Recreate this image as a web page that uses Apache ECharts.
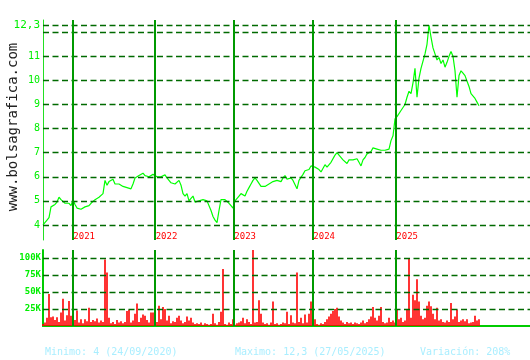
<!DOCTYPE html>
<html>
<head>
<meta charset="utf-8">
<script src="https://cdn.jsdelivr.net/npm/echarts@6/dist/echarts.min.js"></script>
<style>
html,body{margin:0;padding:0;background:#fff;}
#chart{width:530px;height:360px;}
</style>
</head>
<body>
<div id="chart"></div>
<script>
// Closing prices, one per period (Sep 2020 -> early 2026)
const priceValues = [
4.0,4.05,4.2,4.3,4.75,4.7,4.85,4.95,5.15,5.05,
5.0,4.9,4.85,4.9,4.8,5.05,4.85,4.7,4.75,4.65,
4.7,4.75,4.75,4.8,4.9,4.95,5.05,5.1,5.15,5.1,
5.3,5.85,5.65,5.8,5.85,5.9,5.7,5.7,5.7,5.65,
5.6,5.65,5.55,5.6,5.5,5.7,5.95,6.0,6.05,6.1,
6.15,6.05,6.0,6.0,6.05,6.1,6.1,6.0,6.0,6.0,
5.95,6.08,5.95,5.85,5.75,5.8,5.7,5.75,5.85,5.65,
5.3,5.2,5.3,5.0,5.1,5.2,4.95,5.0,5.0,4.95,
5.05,5.05,5.0,4.95,4.6,4.35,4.2,4.1,4.6,5.05,
5.05,5.05,5.0,4.9,4.8,4.7,5.0,5.0,5.2,5.3,
5.25,5.2,5.4,5.55,5.7,5.85,5.95,5.85,5.8,5.6,
5.55,5.6,5.65,5.7,5.75,5.8,5.8,5.85,5.9,5.8,
5.95,6.05,5.9,5.9,5.95,5.85,5.85,5.5,5.85,5.9,
6.1,6.25,6.3,6.3,6.45,6.45,6.4,6.35,6.3,6.2,
6.15,6.5,6.4,6.35,6.6,6.65,6.9,7.0,6.9,6.85,
6.7,6.65,6.55,6.7,6.7,6.7,6.7,6.75,6.6,6.45,
6.7,6.8,6.95,7.0,7.05,7.2,7.25,7.15,7.1,7.1,
7.05,7.1,7.1,7.15,7.5,7.7,8.4,8.5,8.55,8.75,
8.8,9.0,9.3,9.55,9.45,9.9,10.5,9.3,10.1,10.5,
10.8,11.1,11.5,12.3,11.8,11.35,11.1,10.85,10.95,10.7,
10.85,10.55,10.75,11.0,11.2,11.0,10.4,9.3,10.2,10.4,
10.3,10.2,10.15,9.75,9.45,9.4,9.25,9.1,8.95
];
// Volume in thousands, same periods
const volumeK = [
3,5,12,47,13,14,9,13,6,20,
40,8,16,37,15,6,9,23,5,10,
4,10,7,27,6,9,7,11,5,8,
6,98,79,12,4,6,3,9,5,7,
4,6,22,24,5,8,18,33,6,12,
17,15,9,5,20,20,7,6,30,10,
28,25,8,15,4,7,6,12,15,8,
4,6,14,8,12,5,3,4,3,5,
2,4,3,2,3,18,4,2,6,21,
84,3,2,5,3,10,2,4,5,7,
12,4,10,6,3,112,5,6,38,18,
5,3,4,2,5,36,3,4,2,3,
5,4,21,3,16,5,4,79,6,12,
4,17,5,18,36,8,10,3,2,4,
3,6,10,14,18,22,25,27,14,8,
5,3,6,4,5,3,5,4,3,5,
8,4,6,10,14,28,12,8,15,28,
6,4,5,12,6,8,5,24,10,12,
6,8,25,99,12,46,38,69,36,15,
10,12,30,36,29,18,10,27,8,10,
6,5,8,6,34,10,14,24,6,8,
10,7,10,4,5,6,15,8,10
];
const yearLabels = ['2021','2022','2023','2024','2025'];
const yearStartIndex = [14.65, 55.85, 95.15, 134.65, 176.15];
const priceGridTicks = [4,5,6,7,8,9,10,11,12,12.3];
const priceLabelTicks = [4,5,6,7,8,9,10,11,12.3];
const volumeTicks = [25,50,75,100];
const summaryTexts = ['Minimo: 4 (24/09/2020)', 'Maximo: 12,3 (27/05/2025)', 'Variación: 208%'];
const watermark = 'www.bolsagrafica.com';

const MONO = 'DejaVu Sans Mono, monospace';
const X_MAX = 243.5;
const dashStyle = {color:'#006a00', width:1.4, type:[6,3.5]};
const yearStyle = {color:'#009a00', width:2, type:'solid'};

const chart = echarts.init(document.getElementById('chart'), null, {renderer:'canvas'});
const option = {
  animation:false,
  backgroundColor:'#ffffff',
  grid:[
    {left:43, right:0, top:20, bottom:120},
    {left:43, right:0, top:250, bottom:34}
  ],
  xAxis:[
    {gridIndex:0, type:'value', min:0, max:X_MAX,
     axisLine:{show:false}, axisTick:{show:false}, splitLine:{show:false},
     axisLabel:{customValues:yearStartIndex,
       formatter:(v)=>{const k=yearStartIndex.findIndex(t=>Math.abs(t-v)<1e-6);return k>=0?yearLabels[k]:'';},
       color:'#ff0000', fontFamily:MONO, fontSize:9,
       align:'left', verticalAlign:'bottom', margin:1, padding:[0,0,0,1]}},
    {gridIndex:1, type:'value', min:0, max:X_MAX,
     axisLine:{show:true, lineStyle:{color:'#00cc00', width:2}}, axisTick:{show:false},
     splitLine:{show:false}, axisLabel:{show:false}}
  ],
  yAxis:[
    {gridIndex:0, type:'value', min:3.375, max:12.5083,
     axisLine:{show:true, lineStyle:{color:'#22e022', width:1}}, axisTick:{show:false},
     splitLine:{show:false},
     axisLabel:{customValues:priceLabelTicks,
       formatter:(v)=> Math.abs(v-12.3)<1e-6 ? '{big|12,3}' : String(v),
       color:'#00ee00', fontFamily:MONO, fontSize:10, margin:3,
       rich:{big:{fontSize:11, fontFamily:MONO, color:'#00ee00'}}}},
    {gridIndex:1, type:'value', min:0, max:112,
     axisLine:{show:true, lineStyle:{color:'#00cc00', width:2}}, axisTick:{show:false},
     splitLine:{show:false},
     axisLabel:{customValues:volumeTicks, formatter:(v)=>v+'K',
       color:'#00ee00', fontFamily:MONO, fontSize:9, fontWeight:'bold', margin:2}}
  ],
  series:[
    {type:'line', xAxisIndex:0, yAxisIndex:0, data:[], z:1, silent:true,
     markLine:{silent:true, symbol:['none','none'], animation:false, label:{show:false},
       data:[
         ...priceGridTicks.map(v=>({yAxis:v, lineStyle:dashStyle})),
         ...yearStartIndex.map(v=>({xAxis:v, lineStyle:yearStyle}))
       ]}},
    {type:'line', xAxisIndex:0, yAxisIndex:0, z:3,
     data:priceValues.map((v,i)=>[i,v]), symbol:'none',
     lineStyle:{color:'#00ff00', width:1.2}},
    {type:'line', xAxisIndex:1, yAxisIndex:1, data:[], z:1, silent:true,
     markLine:{silent:true, symbol:['none','none'], animation:false, label:{show:false},
       data:[
         ...volumeTicks.map(v=>({yAxis:v, lineStyle:dashStyle})),
         ...yearStartIndex.map(v=>({xAxis:v, lineStyle:yearStyle}))
       ]}},
    {type:'bar', xAxisIndex:1, yAxisIndex:1, z:3,
     data:volumeK.map((v,i)=>[i,v]), barWidth:1.6,
     itemStyle:{color:'#ff0000'}}
  ],
  graphic:[
    {type:'text', x:13, y:127, rotation:Math.PI/2,
     style:{text:watermark, font:'14px '+MONO, fill:'#222', align:'center', verticalAlign:'middle'}},
    {type:'text', x:45, y:352, style:{text:summaryTexts[0], font:'10px '+MONO, fill:'#aaeeff', verticalAlign:'middle'}},
    {type:'text', x:235, y:352, style:{text:summaryTexts[1], font:'10px '+MONO, fill:'#aaeeff', verticalAlign:'middle'}},
    {type:'text', x:420, y:352, style:{text:summaryTexts[2], font:'10px '+MONO, fill:'#aaeeff', verticalAlign:'middle'}}
  ]
};
chart.setOption(option);
</script>
</body>
</html>
